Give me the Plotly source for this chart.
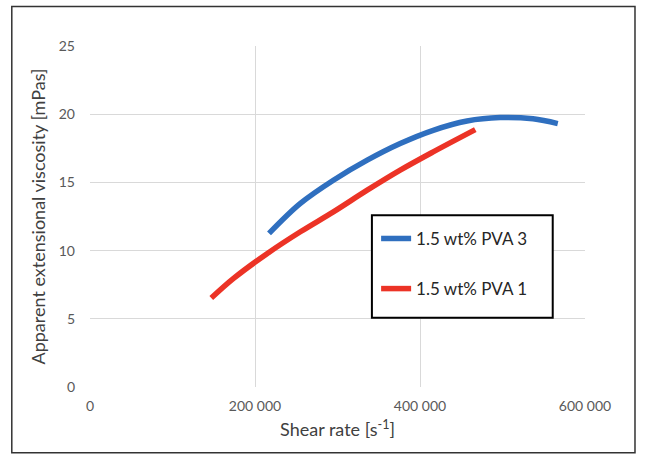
import plotly.graph_objects as go

# PVA 3 (blue)
pva3_x = [217000, 255000, 295000, 336000, 376000, 416000, 457000, 497000, 537000, 567000]
pva3_y = [11.26, 13.46, 15.16, 16.63, 17.85, 18.82, 19.50, 19.75, 19.66, 19.31]
# PVA 1 (red)
pva1_x = [147000, 174000, 215000, 255000, 295000, 336000, 376000, 416000, 467000]
pva1_y = [6.52, 7.96, 9.79, 11.38, 12.84, 14.43, 15.90, 17.24, 18.87]

names = ["1.5 wt% PVA 3", "1.5 wt% PVA 1"]
colors = ["#2F6FBF", "#EC3326"]

FONT = "Lato, Calibri, Open Sans, sans-serif"

fig = go.Figure()
fig.add_trace(go.Scatter(x=pva3_x, y=pva3_y, mode="lines", name=names[0],
                         line=dict(color=colors[0], width=5.5, shape="spline"),
                         legendgroup="a"))
fig.add_trace(go.Scatter(x=pva1_x, y=pva1_y, mode="lines", name=names[1],
                         line=dict(color=colors[1], width=5.5, shape="spline"),
                         legendgroup="b"))

fig.update_layout(
    width=645, height=463,
    margin=dict(l=89.5, r=60, t=46, b=76),
    paper_bgcolor="white", plot_bgcolor="white",
    separators=". ",
    font=dict(family=FONT, color="#404040"),
    showlegend=True,
    legend=dict(x=0.578, y=0.487, xanchor="left", yanchor="top",
                borderwidth=0, bgcolor="rgba(0,0,0,0)",
                traceorder="grouped", tracegroupgap=25,
                font=dict(size=17, color="#262626", family=FONT),
                itemwidth=30),
    xaxis=dict(range=[0, 600000], tickvals=[0, 200000, 400000, 600000],
               tickformat=",", showgrid=True, gridcolor="#D9D9D9", gridwidth=1,
               zeroline=False, showline=False, ticks="", ticklabelstandoff=9,
               tickfont=dict(size=14, color="#595959"),
               title=dict(text="Shear rate [s<sup>-1</sup>]", font=dict(size=18, color="#404040"), standoff=10)),
    yaxis=dict(range=[0, 25], tickvals=[0, 5, 10, 15, 20, 25],
               showgrid=True, gridcolor="#D9D9D9", gridwidth=1,
               zeroline=False, showline=False, ticks="", ticklabelstandoff=14,
               tickfont=dict(size=14, color="#595959"),
               title=dict(text="Apparent extensional viscosity [mPas]", font=dict(size=18, color="#404040"), standoff=8)),
    shapes=[
        dict(type="rect", xref="paper", yref="paper",
             x0=-0.158, x1=1.101, y0=-0.193, y1=1.116,
             line=dict(color="#333333", width=1.5), fillcolor="rgba(0,0,0,0)"),
        dict(type="rect", xref="paper", yref="paper", layer="above",
             x0=0.5695, x1=0.9348, y0=0.203, y1=0.504,
             line=dict(color="black", width=2), fillcolor="white"),
    ],
)

fig.write_html("out.html")
